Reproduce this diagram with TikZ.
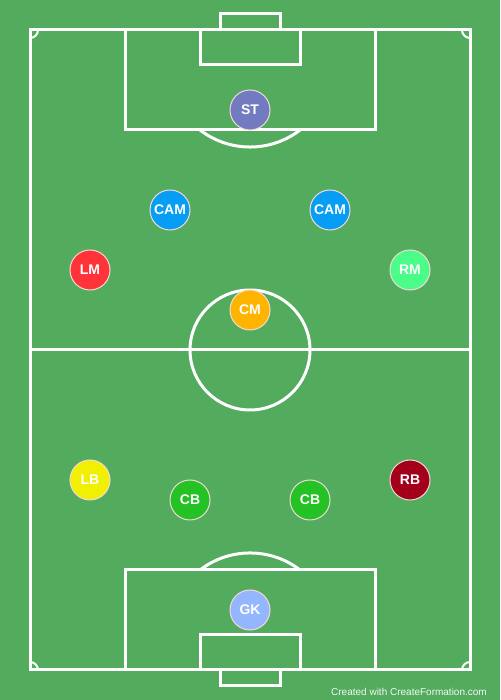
\documentclass[tikz,border=0pt]{standalone}
\usepackage{fontspec}
\setmainfont{Liberation Sans}
\definecolor{pitch}{RGB}{83,171,94}
\definecolor{cST}{RGB}{114,122,192}
\definecolor{cCAM}{RGB}{6,158,245}
\definecolor{cLM}{RGB}{255,51,56}
\definecolor{cRM}{RGB}{74,252,136}
\definecolor{cCM}{RGB}{255,180,0}
\definecolor{cLB}{RGB}{240,240,0}
\definecolor{cCB}{RGB}{36,194,36}
\definecolor{cRB}{RGB}{163,0,27}
\definecolor{cGK}{RGB}{148,182,255}
\definecolor{rim}{RGB}{245,215,215}
\tikzset{
  pline/.style={draw=white, line width=3pt},
  cline/.style={draw=white, line width=2pt},
  player/.style={circle, minimum size=40pt, inner sep=0pt, draw=rim, line width=1pt,
    text=white, font=\fontsize{14}{14}\selectfont\bfseries},
}
\begin{document}
\begin{tikzpicture}[x=1pt,y=1pt]
\fill[pitch] (0,0) rectangle (500,700);
\useasboundingbox (0,0) rectangle (500,700);
% outline
\draw[pline] (30,30) rectangle (470,670);
\draw[pline] (30,350) -- (470,350);
\draw[pline] (250,350) circle[radius=60];
% top
\draw[pline] (125,670) rectangle (375,570);
\draw[pline] (200,670) rectangle (300,635);
\draw[pline] (220,670) -- (220,686) -- (280,686) -- (280,670);
\draw[pline] (200,570) arc[start angle=232.4, end angle=307.6, radius=82];
% bottom
\draw[pline] (125,30) rectangle (375,130);
\draw[pline] (200,30) rectangle (300,65);
\draw[pline] (220,30) -- (220,14) -- (280,14) -- (280,30);
\draw[pline] (200,130) arc[start angle=127.6, end angle=52.4, radius=82];
% corners
\draw[cline] (38,670) arc[start angle=0, end angle=-90, radius=8];
\draw[cline] (462,670) arc[start angle=180, end angle=270, radius=8];
\draw[cline] (38,30) arc[start angle=0, end angle=90, radius=8];
\draw[cline] (462,30) arc[start angle=180, end angle=90, radius=8];
% players
\node[player, fill=cST]  (st)   at (250,590) {ST};
\node[player, fill=cCAM] (caml) at (170,490) {CAM};
\node[player, fill=cCAM] (camr) at (330,490) {CAM};
\node[player, fill=cLM]  (lm)   at (90,430)  {LM};
\node[player, fill=cRM]  (rm)   at (410,430) {RM};
\node[player, fill=cCM]  (cm)   at (250,390) {CM};
\node[player, fill=cLB]  (lb)   at (90,220)  {LB};
\node[player, fill=cCB]  (cbl)  at (190,200) {CB};
\node[player, fill=cCB]  (cbr)  at (310,200) {CB};
\node[player, fill=cRB]  (rb)   at (410,220) {RB};
\node[player, fill=cGK]  (gk)   at (250,90)  {GK};
\node[anchor=east, inner sep=0pt, text=white!92!pitch, font=\fontsize{10}{10}\selectfont] (credit) at (487,8) {Created with CreateFormation.com};
\end{tikzpicture}
\end{document}
